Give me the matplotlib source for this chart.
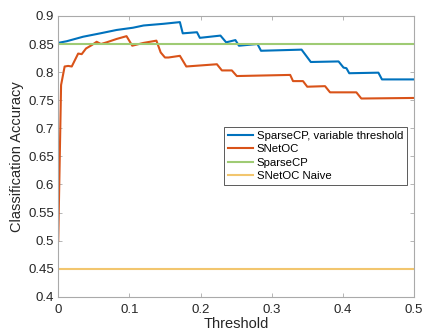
import numpy as np
import matplotlib
matplotlib.use("Agg")
import matplotlib.pyplot as plt

plt.rcParams['font.family'] = ['Liberation Sans', 'DejaVu Sans']

# SparseCP, variable threshold
blue_x = [0.0, 0.012, 0.035, 0.059, 0.082, 0.105, 0.12, 0.148, 0.171, 0.175, 0.195, 0.199,
          0.228, 0.236, 0.249, 0.254, 0.280, 0.285, 0.342, 0.355, 0.394, 0.401, 0.405,
          0.409, 0.45, 0.455, 0.5]
blue_y = [0.852, 0.855, 0.863, 0.869, 0.875, 0.879, 0.883, 0.886, 0.889, 0.869, 0.871, 0.861,
          0.865, 0.853, 0.857, 0.847, 0.850, 0.838, 0.840, 0.818, 0.819, 0.808, 0.807,
          0.798, 0.799, 0.787, 0.787]

# SNetOC
orange_x = [0.0, 0.004, 0.009, 0.014, 0.019, 0.028, 0.033, 0.039, 0.047, 0.054, 0.06, 0.068,
            0.082, 0.096, 0.104, 0.12, 0.138, 0.144, 0.15, 0.155, 0.171, 0.18, 0.223, 0.23,
            0.244, 0.251, 0.326, 0.330, 0.344, 0.35, 0.375, 0.382, 0.419, 0.426, 0.5]
orange_y = [0.5, 0.777, 0.81, 0.811, 0.81, 0.833, 0.832, 0.842, 0.848, 0.854, 0.850, 0.853,
            0.859, 0.864, 0.847, 0.852, 0.856, 0.835, 0.826, 0.826, 0.829, 0.81, 0.814, 0.803,
            0.803, 0.793, 0.795, 0.784, 0.784, 0.774, 0.775, 0.764, 0.764, 0.753, 0.754]

sparsecp_level = 0.85
naive_level = 0.45

fig = plt.figure(figsize=(4.22, 3.32), dpi=100)
ax = fig.add_axes([0.138, 0.106, 0.843, 0.846])

ax.plot(blue_x, blue_y, color='#0072BD', lw=1.5, label='SparseCP, variable threshold')
ax.plot(orange_x, orange_y, color='#D95319', lw=1.5, label='SNetOC')
ax.plot([0, 0.5], [sparsecp_level, sparsecp_level], color='#9FCB74', lw=1.5, label='SparseCP')
ax.plot([0, 0.5], [naive_level, naive_level], color='#F2C66E', lw=1.5, label='SNetOC Naive')

ax.set_xlim(0, 0.5)
ax.set_ylim(0.4, 0.9)
ax.set_xticks([0, 0.1, 0.2, 0.3, 0.4, 0.5])
ax.set_xticklabels(['0', '0.1', '0.2', '0.3', '0.4', '0.5'])
ax.set_yticks(np.arange(0.4, 0.91, 0.05))
ax.set_yticklabels(['0.4', '0.45', '0.5', '0.55', '0.6', '0.65', '0.7', '0.75', '0.8', '0.85', '0.9'])
ax.tick_params(direction='in', length=3, width=0.6, labelsize=9.5, color='#AAAAAA',
               labelcolor='#262626', top=True, right=True)
ax.tick_params(axis='x', pad=5)
ax.tick_params(axis='y', pad=3)
for s in ax.spines.values():
    s.set_color('#AAAAAA')
    s.set_linewidth(0.8)
ax.set_xlabel('Threshold', fontsize=10.5, color='#262626', labelpad=1)
ax.set_ylabel('Classification Accuracy', fontsize=10.5, color='#262626', labelpad=3)

leg = ax.legend(loc='upper right', bbox_to_anchor=(0.98, 0.605), fontsize=8.2,
                handlelength=2.2, handletextpad=0.3, borderpad=0.35, labelspacing=0.3,
                fancybox=False, framealpha=1, borderaxespad=0)
leg.get_frame().set_edgecolor('#404040')
leg.get_frame().set_linewidth(0.6)

fig.savefig('out.png', dpi=100)
